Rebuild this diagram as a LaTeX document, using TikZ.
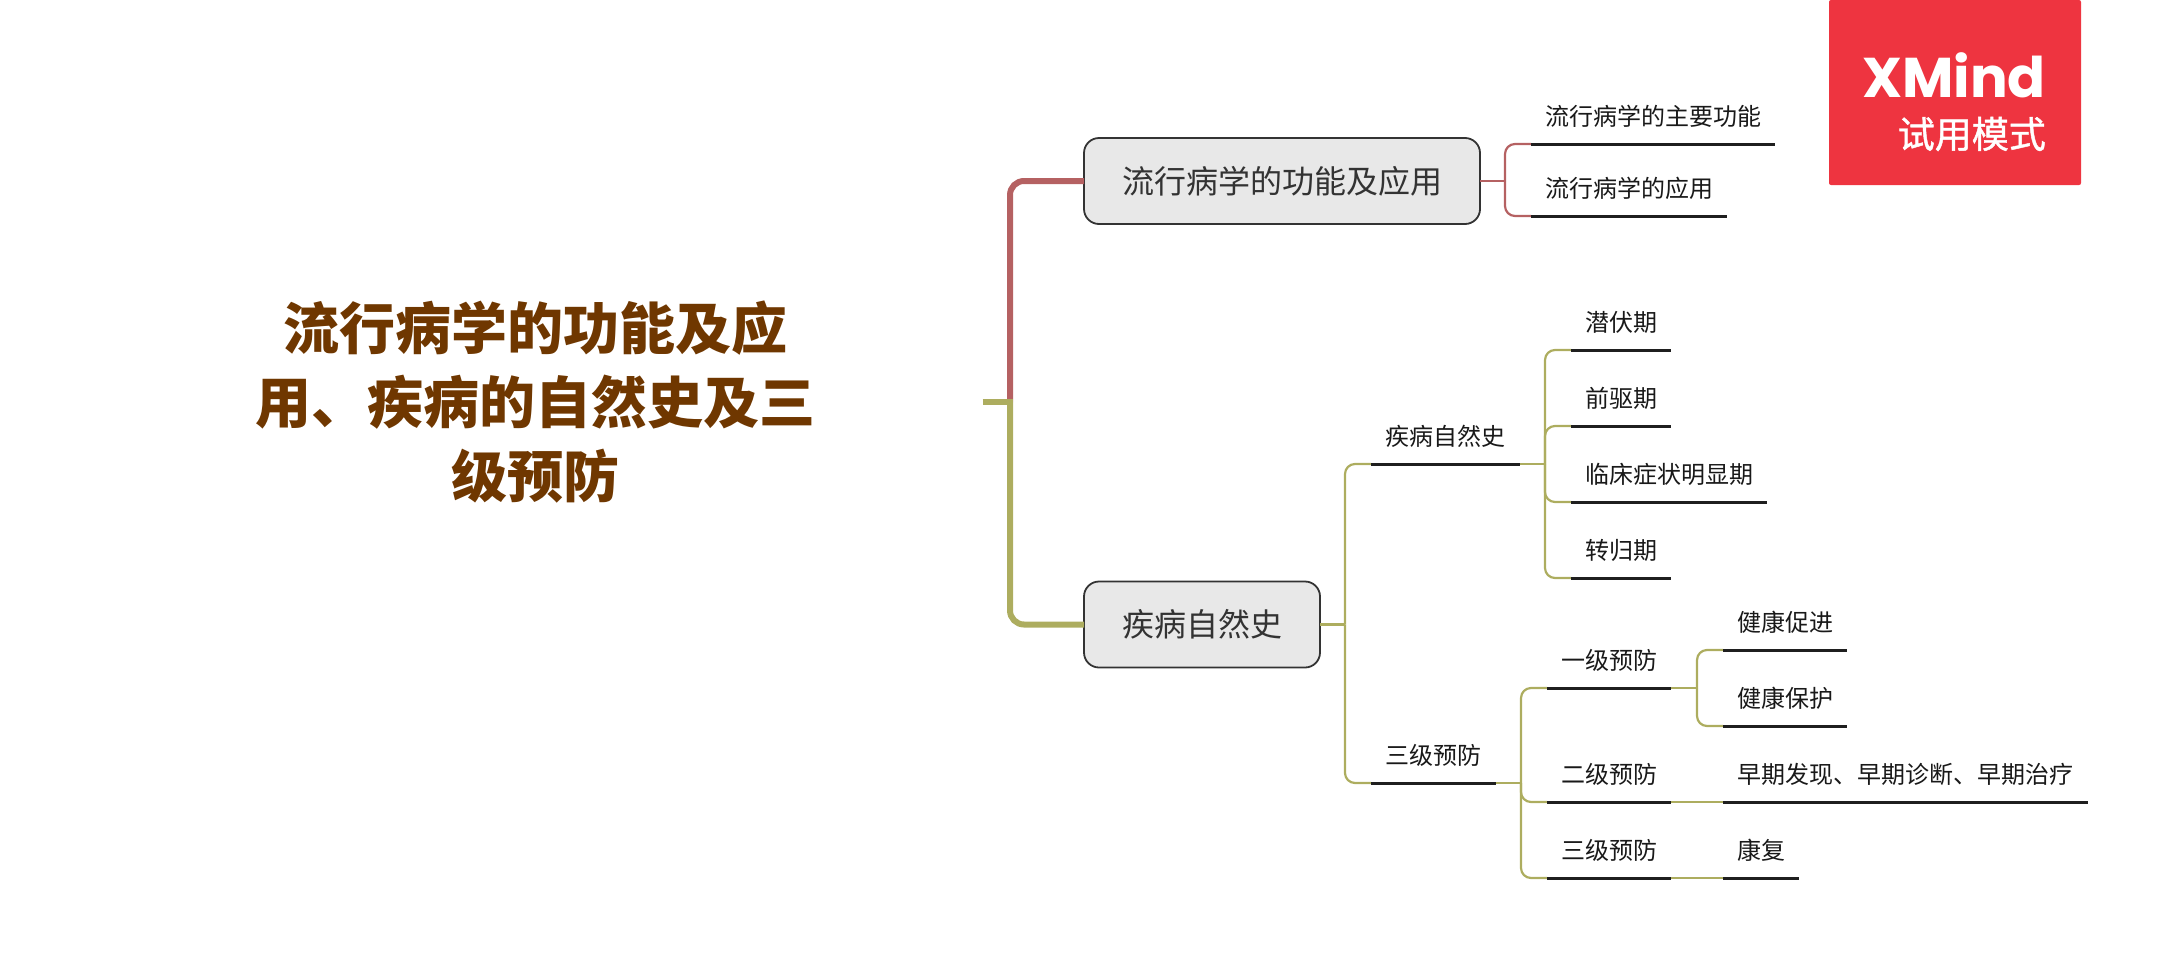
\documentclass[tikz,border=0pt]{standalone}
\usepackage{fontspec}
\setmainfont{Noto Sans CJK SC}
\newfontfamily\logofont{Poppins}
\definecolor{redb}{HTML}{B56162}
\definecolor{greenb}{HTML}{ADAD5F}
\definecolor{title}{HTML}{6F3700}
\definecolor{logored}{HTML}{EE3440}
\begin{document}
\begin{tikzpicture}[x=1pt,y=-1pt,
  rootnode/.style={inner sep=0,outer sep=0,minimum width=894pt,align=center,text=title,font=\fontsize{56}{74}\selectfont\bfseries},
  mainbox/.style={draw=black!80,fill=black!9,line width=1.8pt,rounded corners=15pt,inner sep=0,outer sep=0,minimum height=86pt,text=black!80,font=\fontsize{32}{38}\selectfont},
  topic/.style={inner sep=0,outer sep=0,minimum height=56pt,text=black!90,font=\fontsize{24}{28}\selectfont},
  ul/.style={line width=3pt,color=black!88},
  thickr/.style={line width=6pt,color=redb,rounded corners=14pt},
  thickg/.style={line width=6pt,color=greenb,rounded corners=14pt},
  thinr/.style={line width=2.2pt,color=redb,rounded corners=10pt},
  thing/.style={line width=2.2pt,color=greenb,rounded corners=10pt}]
\useasboundingbox (0,0) rectangle (2175,967);
% nodes
\node[rootnode] (root) at (535.5,402) {流行病学的功能及应\\用、疾病的自然史及三\\级预防};
\node[mainbox,minimum width=396pt] (b1) at (1282,181) {流行病学的功能及应用};
\node[mainbox,minimum width=236pt] (b2) at (1202,624.5) {疾病自然史};
\node[topic,minimum width=244pt] (a1) at (1653,116) {流行病学的主要功能};
\node[topic,minimum width=196pt] (a2) at (1629,188) {流行病学的应用};
\node[topic,minimum width=149pt] (c1) at (1445.5,436) {疾病自然史};
\node[topic,minimum width=125pt] (c2) at (1433.5,755) {三级预防};
\node[topic,minimum width=100pt] (d1) at (1621,322) {潜伏期};
\node[topic,minimum width=100pt] (d2) at (1621,398) {前驱期};
\node[topic,minimum width=196pt] (d3) at (1669,474) {临床症状明显期};
\node[topic,minimum width=100pt] (d4) at (1621,550) {转归期};
\node[topic,minimum width=124pt] (e1) at (1609,660) {一级预防};
\node[topic,minimum width=124pt] (e2) at (1609,774) {二级预防};
\node[topic,minimum width=124pt] (e3) at (1609,850) {三级预防};
\node[topic,minimum width=124pt] (f1) at (1785,622) {健康促进};
\node[topic,minimum width=124pt] (f2) at (1785,698) {健康保护};
\node[topic,minimum width=365pt] (f3) at (1905.5,774) {早期发现、早期诊断、早期治疗};
\node[topic,minimum width=76pt] (f4) at (1761,850) {康复};
% junctions
\coordinate (j0) at (1010,402);
\coordinate (jb1) at (1505,181);
\coordinate (jb2) at (1345,624.5);
\coordinate (jc1) at (1545,464);
\coordinate (jc2) at (1521,783);
\coordinate (je1) at (1697,688);
% main branches
\draw[thickr] (j0) |- (b1.west);
\draw[thickg] (j0) |- (b2.west);
\draw[line width=6pt,color=greenb] (root.east) -- (1013,402);
% red
\draw[thinr] (b1.east) -- (jb1);
\draw[thinr] (jb1) |- (a1.south west);
\draw[thinr] (jb1) |- (a2.south west);
% green
\draw[thing] (b2.east) -- (jb2);
\draw[thing] (jb2) |- (c1.south west);
\draw[thing] (jb2) |- (c2.south west);
\draw[thing] (c1.south east) -- (jc1);
\foreach \n in {d1,d2,d3,d4} \draw[thing] (jc1) |- (\n.south west);
\draw[thing] (c2.south east) -- (jc2);
\foreach \n in {e1,e2,e3} \draw[thing] (jc2) |- (\n.south west);
\draw[thing] (e1.south east) -- (je1);
\draw[thing] (je1) |- (f1.south west);
\draw[thing] (je1) |- (f2.south west);
\draw[thing] (e2.south east) -- (f3.south west);
\draw[thing] (e3.south east) -- (f4.south west);
% underlines
\foreach \n in {a1,a2,c1,c2,d1,d2,d3,d4,e1,e2,e3,f1,f2,f3,f4}
  \draw[ul] (\n.south west) -- (\n.south east);
% logo
\node[fill=logored,inner sep=0,outer sep=0,minimum width=252pt,minimum height=185pt,rounded corners=2pt] (logo) at (1955,92.5) {};
\node[inner sep=0,anchor=base east,text=white,font=\logofont\bfseries\fontsize{56}{60}\selectfont] (lx) at (2046,97) {XMind};
\node[inner sep=0,anchor=east,text=white,font=\fontsize{37}{40}\selectfont\addfontfeature{FakeBold=1.2}] (ly) at (2046,134) {试用模式};
\end{tikzpicture}
\end{document}
